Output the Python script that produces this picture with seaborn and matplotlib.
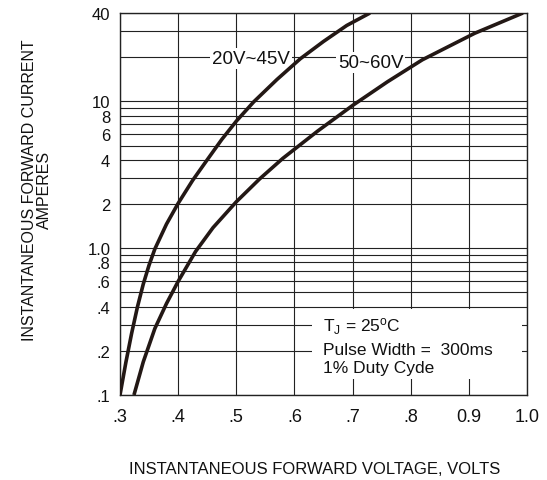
import numpy as np
import pandas as pd
import matplotlib
matplotlib.use("Agg")
import matplotlib.pyplot as plt
import seaborn as sns
from matplotlib.ticker import FixedLocator, FixedFormatter, NullFormatter
from matplotlib.patches import Rectangle

# ---- data ----
v_20_45 = [0.300, 0.310, 0.320, 0.330, 0.340, 0.350, 0.360, 0.380, 0.400, 0.425, 0.450, 0.475,
           0.500, 0.530, 0.570, 0.610, 0.650, 0.690, 0.730]
i_20_45 = [0.100, 0.166, 0.263, 0.398, 0.569, 0.767, 0.989, 1.46, 2.02, 2.90, 4.00, 5.50,
           7.33, 9.93, 14.1, 19.5, 25.6, 32.9, 40.0]
v_50_60 = [0.324, 0.340, 0.360, 0.380, 0.400, 0.430, 0.460, 0.500, 0.540, 0.580, 0.640, 0.700,
           0.760, 0.820, 0.910, 0.993]
i_50_60 = [0.100, 0.168, 0.284, 0.420, 0.594, 0.950, 1.38, 2.07, 2.96, 4.09, 6.28, 9.38,
           13.6, 19.2, 29.1, 40.0]
series_names = ["20V~45V", "50~60V"]

x_ticks = [0.3, 0.4, 0.5, 0.6, 0.7, 0.8, 0.9, 1.0]
x_tick_labels = [".3", ".4", ".5", ".6", ".7", ".8", "0.9", "1.0"]
y_major = [0.1, 0.2, 0.4, 0.6, 0.8, 1.0, 2, 4, 6, 8, 10, 40]
y_major_labels = [".1", ".2", ".4", ".6", ".8", "1.0", "2", "4", "6", "8", "10", "40"]
y_minor = [0.3, 0.5, 0.7, 0.9, 3, 5, 7, 9, 20, 30]

note_lines = [r"T$_\mathregular{J}$ = 25$^\mathregular{o}$C", "Pulse Width =  300ms", "1% Duty Cyde"]

sns.set_theme(style="white")
plt.rcParams['font.family'] = ['Liberation Sans', 'DejaVu Sans']
plt.rcParams['mathtext.fontset'] = 'custom'
plt.rcParams['mathtext.rm'] = 'Liberation Sans'
plt.rcParams['mathtext.it'] = 'Liberation Sans'

fig = plt.figure(figsize=(5.47, 4.81), dpi=100)
ax = fig.add_axes([120/547, 1-396/481, 407/547, 382/481])
ax.set_yscale('log')

df = pd.DataFrame({
    "V": v_20_45 + v_50_60,
    "I": i_20_45 + i_50_60,
    "series": [series_names[0]]*len(v_20_45) + [series_names[1]]*len(v_50_60),
})
ink = "#231815"
sns.lineplot(data=df, x="V", y="I", hue="series", palette={s: ink for s in series_names},
             sort=False, estimator=None, legend=False, linewidth=2.6, ax=ax, zorder=3)
for ln in ax.get_lines():
    ln.set_solid_joinstyle('round')
    ln.set_solid_capstyle('butt')

ax.set_xlim(0.3, 1.0)
ax.set_ylim(0.1, 40)
ax.xaxis.set_major_locator(FixedLocator(x_ticks))
ax.xaxis.set_major_formatter(FixedFormatter(x_tick_labels))
ax.yaxis.set_major_locator(FixedLocator(y_major))
ax.yaxis.set_major_formatter(FixedFormatter(y_major_labels))
ax.yaxis.set_minor_locator(FixedLocator(y_minor))
ax.yaxis.set_minor_formatter(NullFormatter())
ax.grid(which='both', axis='both', color='#222222', linewidth=0.8)
ax.tick_params(axis='both', which='both', length=0)
ax.tick_params(axis='y', labelsize=12, pad=7, colors='#111111')
ax.tick_params(axis='x', labelsize=13, pad=9, colors='#111111')
ax.set_xlabel("")
ax.set_ylabel("")
for sp in ax.spines.values():
    sp.set_color('#222222')
    sp.set_linewidth(1.0)

# white box behind conditions note
ax.add_patch(Rectangle((192/407, 16/382), 210/407, 70/382, transform=ax.transAxes,
                       facecolor='white', edgecolor='none', zorder=1))
for txt, yb in zip(note_lines, [332, 355, 373]):
    ax.text(203/407, (396-yb)/382, txt, transform=ax.transAxes, fontsize=12.5,
            ha='left', va='baseline', color='#111111', zorder=4)

ax.text(0.525, 19.5, series_names[0], ha='center', va='center', fontsize=13.5, color='#111111',
        bbox=dict(facecolor='white', edgecolor='none', pad=1.5), zorder=2)
ax.text(0.731, 18.3, series_names[1], ha='center', va='center', fontsize=13.5, color='#111111',
        bbox=dict(facecolor='white', edgecolor='none', pad=1.5), zorder=2)

fig.text(37/547, 1-190/481, "INSTANTANEOUS FORWARD CURRENT\nAMPERES", rotation=90,
         ha='center', va='center', multialignment='center', fontsize=11.5, linespacing=1.05,
         color='#111111')
fig.text(315/547, 1-470/481, "INSTANTANEOUS FORWARD VOLTAGE, VOLTS", ha='center', va='center',
         fontsize=12, color='#111111')

fig.savefig("out.png", dpi=100)
